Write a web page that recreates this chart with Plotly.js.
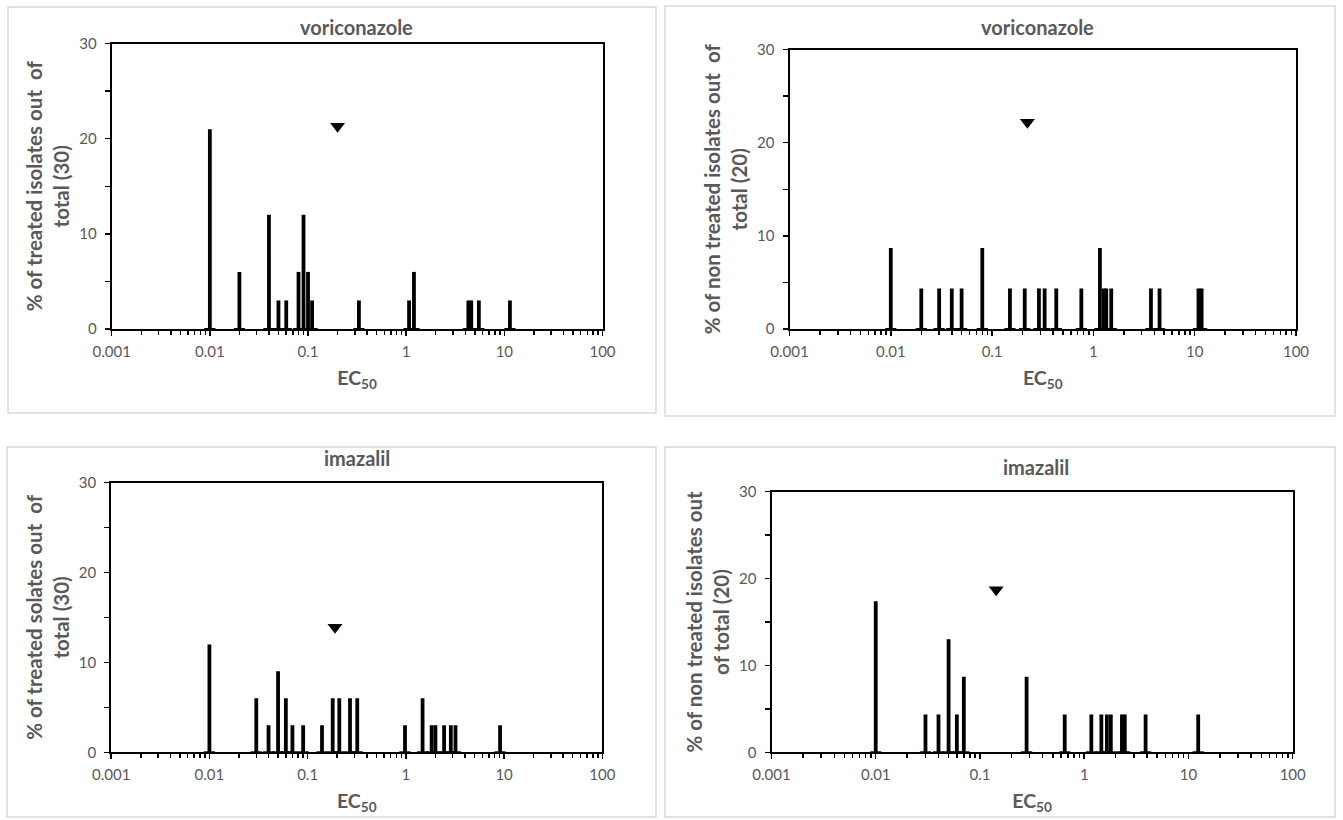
<!DOCTYPE html>
<html>
<head>
<meta charset="utf-8">
<script src="https://cdn.plot.ly/plotly-3.0.1.min.js"></script>
<style>
  html, body { margin: 0; padding: 0; background: #fff; }
  #chart { width: 1343px; height: 820px; }
</style>
</head>
<body>
<div id="chart"></div>
<script>
// ---------- data ----------
// voriconazole, treated isolates
const voriTreatedEC50 = [0.01, 0.02, 0.04, 0.05, 0.06, 0.08, 0.09, 0.1, 0.11, 0.33, 1.07, 1.2, 4.3, 4.6, 5.5, 11.4];
const voriTreatedPct  = [21, 6, 12, 3, 3, 6, 12, 6, 3, 3, 3, 6, 3, 3, 3, 3];
const voriTreatedMeanX = [0.2];
const voriTreatedMeanY = [21.3];

// voriconazole, non treated isolates
const voriNonEC50 = [0.01, 0.02, 0.03, 0.04, 0.05, 0.08, 0.15, 0.21, 0.29, 0.33, 0.43, 0.76, 1.16, 1.27, 1.34, 1.5, 3.7, 4.5, 10.9, 11.7];
const voriNonPct  = [8.7, 4.35, 4.35, 4.35, 4.35, 8.7, 4.35, 4.35, 4.35, 4.35, 4.35, 4.35, 8.7, 4.35, 4.35, 4.35, 4.35, 4.35, 4.35, 4.35];
const voriNonMeanX = [0.223];
const voriNonMeanY = [22.2];

// imazalil, treated isolates
const imaTreatedEC50 = [0.01, 0.03, 0.04, 0.05, 0.06, 0.07, 0.09, 0.14, 0.18, 0.21, 0.27, 0.32, 0.98, 1.48, 1.83, 2.0, 2.45, 2.87, 3.2, 9.1];
const imaTreatedPct  = [12, 6, 3, 9, 6, 3, 3, 3, 6, 6, 6, 6, 3, 6, 3, 3, 3, 3, 3, 3];
const imaTreatedMeanX = [0.19];
const imaTreatedMeanY = [13.9];

// imazalil, non treated isolates
const imaNonEC50 = [0.01, 0.03, 0.04, 0.05, 0.06, 0.07, 0.28, 0.65, 1.17, 1.46, 1.65, 1.8, 2.3, 2.45, 3.88, 12.4];
const imaNonPct  = [17.4, 4.35, 4.35, 13.0, 4.35, 8.7, 8.7, 4.35, 4.35, 4.35, 4.35, 4.35, 4.35, 4.35, 4.35, 4.35];
const imaNonMeanX = [0.143];
const imaNonMeanY = [18.7];

// ticks and labels
const xTickVals = [0.001, 0.01, 0.1, 1, 10, 100];
const xTickText = ['0.001', '0.01', '0.1', '1', '10', '100'];
const yTickVals = [0, 10, 20, 30];
const yTickText = ['0', '10', '20', '30'];
const yMinorTickVals = [5, 15, 25];

const panelTitles = ['voriconazole', 'voriconazole', 'imazalil', 'imazalil'];
const yTitles = [
  '% of treated isolates out  of<br>total (30)',
  '% of non treated isolates out  of<br>total (20)',
  '% of treated solates out  of<br>total (30)',
  '% of non treated isolates out<br>of total (20)'
];
const xTitle = 'EC<sub>50</sub>';

// ---------- helpers ----------
const GREY = '#595959';
const FONT = 'Lato, "Open Sans", sans-serif';

function spikeTrace(xs, ys, axSuffix) {
  const x = [], y = [];
  xs.forEach((v, i) => { x.push(v, v, null); y.push(0, ys[i], null); });
  return {
    type: 'scatter', mode: 'lines', x: x, y: y,
    xaxis: 'x' + axSuffix, yaxis: 'y' + axSuffix,
    line: { color: '#000', width: 3.8 },
    hoverinfo: 'skip', showlegend: false
  };
}
function footTrace(xs, axSuffix) {
  return {
    type: 'scatter', mode: 'markers', x: xs, y: xs.map(() => 0),
    xaxis: 'x' + axSuffix, yaxis: 'y' + axSuffix,
    marker: { symbol: 'line-ew', size: 8, line: { color: '#000', width: 2 } },
    cliponaxis: false, hoverinfo: 'skip', showlegend: false
  };
}
function meanTrace(mx, my, axSuffix) {
  return {
    type: 'scatter', mode: 'markers', x: mx, y: my,
    xaxis: 'x' + axSuffix, yaxis: 'y' + axSuffix,
    marker: { symbol: 'triangle-down', size: 13, color: '#000' },
    showlegend: false
  };
}

const datasets = [
  [voriTreatedEC50, voriTreatedPct, voriTreatedMeanX, voriTreatedMeanY],
  [voriNonEC50, voriNonPct, voriNonMeanX, voriNonMeanY],
  [imaTreatedEC50, imaTreatedPct, imaTreatedMeanX, imaTreatedMeanY],
  [imaNonEC50, imaNonPct, imaNonMeanX, imaNonMeanY]
];

const W = 1343, H = 820;
// plot-area boxes in pixels: [left, right, top, bottom]
const boxes = [
  [111.7, 602.5, 43.5, 329],
  [789.5, 1296, 49.5, 329],
  [111.2, 602.3, 482.5, 752.3],
  [771.5, 1292.7, 491.7, 752.3]
];
// panel frames in pixels: [left, top, right, bottom]
const frames = [
  [8, 7, 656, 413],
  [665, 6, 1335, 416],
  [7, 447, 656, 817],
  [665, 447, 1335, 817]
];
// title centres in pixels
const titlePos = [[357, 27], [1037, 27], [357, 458], [1036, 467]];

const traces = [];
const layout = {
  width: W, height: H,
  margin: { l: 0, r: 0, t: 0, b: 0 },
  paper_bgcolor: '#fff', plot_bgcolor: '#fff',
  showlegend: false,
  font: { family: FONT, color: GREY },
  shapes: [], annotations: []
};

datasets.forEach((d, i) => {
  const s = i === 0 ? '' : String(i + 1);
  traces.push(spikeTrace(d[0], d[1], s));
  traces.push(footTrace(d[0], s));
  traces.push(meanTrace(d[2], d[3], s));

  const b = boxes[i];
  layout['xaxis' + s] = {
    type: 'log', range: [-3, 2],
    domain: [b[0] / W, b[1] / W],
    anchor: 'y' + s,
    showline: true, linecolor: '#000', linewidth: 2, mirror: true,
    showgrid: false, zeroline: false,
    tickmode: 'array', tickvals: xTickVals, ticktext: xTickText,
    ticks: 'outside', ticklen: 5, tickwidth: 1.5, tickcolor: '#000',
    minor: { dtick: 'D1', ticks: 'outside', ticklen: 4, tickwidth: 1.5, tickcolor: '#000', showgrid: false },
    tickfont: { family: FONT, size: 15, color: GREY },
    ticklabelstandoff: 3,
    title: { text: xTitle, standoff: 12, font: { family: FONT, size: 19.5, color: GREY, weight: 'bold' } }
  };
  layout['yaxis' + s] = {
    range: [0, 30],
    domain: [1 - b[3] / H, 1 - b[2] / H],
    anchor: 'x' + s,
    showline: true, linecolor: '#000', linewidth: 2, mirror: true,
    showgrid: false, zeroline: false,
    tickmode: 'array', tickvals: yTickVals, ticktext: yTickText,
    ticks: 'outside', ticklen: 5, tickwidth: 1.5, tickcolor: '#000',
    minor: { tickmode: 'array', tickvals: yMinorTickVals, ticks: 'outside', ticklen: 5, tickwidth: 1.5, tickcolor: '#000', showgrid: false },
    tickfont: { family: FONT, size: 15, color: GREY },
    ticklabelstandoff: 5,
    title: { text: yTitles[i], standoff: 4, font: { family: FONT, size: 20.5, color: GREY, weight: 'bold' } }
  };

  const f = frames[i];
  layout.shapes.push({
    type: 'rect', xref: 'paper', yref: 'paper',
    x0: f[0] / W, x1: f[2] / W, y0: 1 - f[3] / H, y1: 1 - f[1] / H,
    line: { color: '#d9d9d9', width: 1.5 }, fillcolor: 'rgba(0,0,0,0)', layer: 'below'
  });
  layout.annotations.push({
    xref: 'paper', yref: 'paper',
    x: titlePos[i][0] / W, y: 1 - titlePos[i][1] / H,
    xanchor: 'center', yanchor: 'middle', showarrow: false,
    text: panelTitles[i],
    font: { family: FONT, size: 20, color: GREY, weight: 'bold' }
  });
});

Plotly.newPlot('chart', traces, layout, { staticPlot: true, displayModeBar: false });
</script>
</body>
</html>
